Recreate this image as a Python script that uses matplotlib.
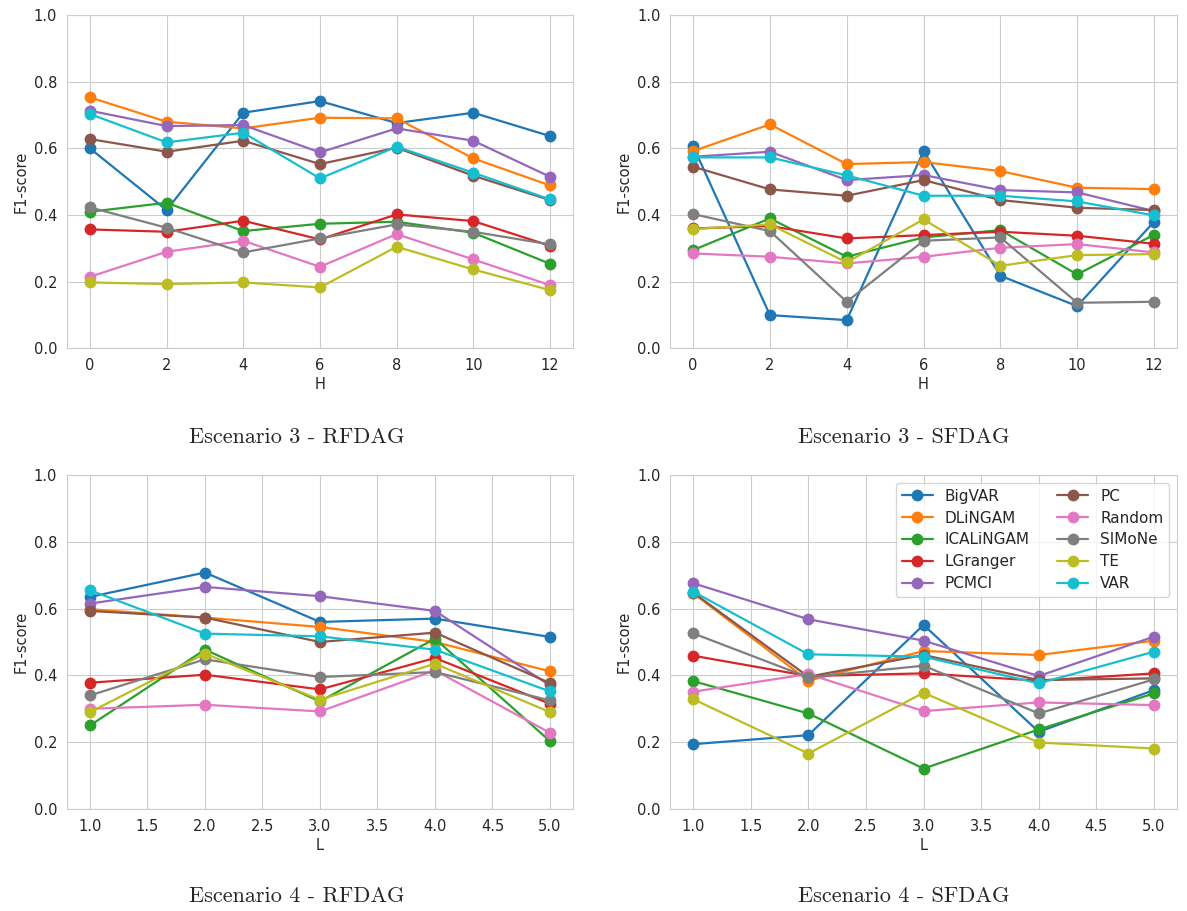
import numpy as np
import matplotlib
matplotlib.use("Agg")
import matplotlib.pyplot as plt
import seaborn as sns

sns.set_style("whitegrid")
plt.rcParams["font.family"] = ["DejaVu Sans"]

methods = ["BigVAR", "DLiNGAM", "ICALiNGAM", "LGranger", "PCMCI",
           "PC", "Random", "SIMoNe", "TE", "VAR"]

H = [0, 2, 4, 6, 8, 10, 12]
L = [1.0, 2.0, 3.0, 4.0, 5.0]

# Escenario 3 - RFDAG (x = H)
esc3_rf = {
    "BigVAR":    [0.600, 0.415, 0.707, 0.742, 0.676, 0.707, 0.637],
    "DLiNGAM":   [0.753, 0.680, 0.660, 0.692, 0.690, 0.570, 0.489],
    "ICALiNGAM": [0.410, 0.437, 0.352, 0.374, 0.380, 0.347, 0.254],
    "LGranger":  [0.357, 0.350, 0.383, 0.327, 0.402, 0.382, 0.308],
    "PCMCI":     [0.713, 0.667, 0.670, 0.588, 0.660, 0.623, 0.515],
    "PC":        [0.628, 0.590, 0.623, 0.553, 0.602, 0.518, 0.445],
    "Random":    [0.215, 0.290, 0.323, 0.245, 0.343, 0.267, 0.190],
    "SIMoNe":    [0.423, 0.362, 0.288, 0.330, 0.372, 0.350, 0.312],
    "TE":        [0.198, 0.193, 0.198, 0.183, 0.305, 0.237, 0.175],
    "VAR":       [0.703, 0.618, 0.647, 0.510, 0.605, 0.527, 0.447],
}

# Escenario 3 - SFDAG (x = H)
esc3_sf = {
    "BigVAR":    [0.607, 0.100, 0.085, 0.592, 0.218, 0.127, 0.380],
    "DLiNGAM":   [0.592, 0.672, 0.553, 0.559, 0.532, 0.482, 0.478],
    "ICALiNGAM": [0.295, 0.390, 0.275, 0.333, 0.355, 0.222, 0.341],
    "LGranger":  [0.360, 0.367, 0.330, 0.340, 0.350, 0.338, 0.314],
    "PCMCI":     [0.575, 0.590, 0.505, 0.520, 0.475, 0.468, 0.412],
    "PC":        [0.545, 0.477, 0.458, 0.505, 0.445, 0.422, 0.415],
    "Random":    [0.285, 0.275, 0.255, 0.275, 0.302, 0.313, 0.288],
    "SIMoNe":    [0.403, 0.352, 0.140, 0.323, 0.333, 0.137, 0.140],
    "TE":        [0.358, 0.372, 0.258, 0.387, 0.248, 0.280, 0.283],
    "VAR":       [0.573, 0.573, 0.519, 0.458, 0.458, 0.441, 0.399],
}

# Escenario 4 - RFDAG (x = L)
esc4_rf = {
    "BigVAR":    [0.635, 0.708, 0.560, 0.570, 0.515],
    "DLiNGAM":   [0.598, 0.573, 0.545, 0.500, 0.412],
    "ICALiNGAM": [0.250, 0.477, 0.322, 0.510, 0.203],
    "LGranger":  [0.378, 0.402, 0.358, 0.452, 0.315],
    "PCMCI":     [0.615, 0.665, 0.637, 0.593, 0.370],
    "PC":        [0.593, 0.573, 0.500, 0.528, 0.377],
    "Random":    [0.300, 0.312, 0.292, 0.415, 0.228],
    "SIMoNe":    [0.340, 0.448, 0.395, 0.410, 0.325],
    "TE":        [0.290, 0.465, 0.327, 0.435, 0.290],
    "VAR":       [0.655, 0.525, 0.517, 0.477, 0.352],
}

# Escenario 4 - SFDAG (x = L)
esc4_sf = {
    "BigVAR":    [0.194, 0.221, 0.551, 0.231, 0.356],
    "DLiNGAM":   [0.646, 0.384, 0.473, 0.461, 0.504],
    "ICALiNGAM": [0.383, 0.286, 0.121, 0.238, 0.346],
    "LGranger":  [0.459, 0.398, 0.406, 0.384, 0.406],
    "PCMCI":     [0.676, 0.568, 0.504, 0.398, 0.516],
    "PC":        [0.648, 0.396, 0.461, 0.386, 0.391],
    "Random":    [0.351, 0.404, 0.293, 0.319, 0.311],
    "SIMoNe":    [0.526, 0.394, 0.429, 0.286, 0.388],
    "TE":        [0.329, 0.166, 0.348, 0.199, 0.181],
    "VAR":       [0.651, 0.463, 0.456, 0.376, 0.471],
}

colors = plt.rcParams["axes.prop_cycle"].by_key()["color"]

fig = plt.figure(figsize=(11.87, 9.11), dpi=100)

# axes positions in figure fractions, subtitle positions
panels = [
    ([0.0564, 0.6175, 0.4263, 0.3660], H, esc3_rf, "H", "Escenario 3 - RFDAG", (0.250, 0.5095)),
    ([0.5645, 0.6175, 0.4271, 0.3660], H, esc3_sf, "H", "Escenario 3 - SFDAG", (0.761, 0.5095)),
    ([0.0564, 0.1120, 0.4263, 0.3666], L, esc4_rf, "L", "Escenario 4 - RFDAG", (0.250, 0.005)),
    ([0.5645, 0.1120, 0.4271, 0.3666], L, esc4_sf, "L", "Escenario 4 - SFDAG", (0.761, 0.005)),
]

for i, (pos, xs, data, xlab, title, tpos) in enumerate(panels):
    ax = fig.add_axes(pos)
    for j, m in enumerate(methods):
        ax.plot(xs, data[m], marker="o", markersize=7.5, linewidth=1.6,
                color=colors[j], label=m)
    ax.set_ylim(0, 1.0)
    ax.set_yticks([0.0, 0.2, 0.4, 0.6, 0.8, 1.0])
    if xlab == "H":
        ax.set_xticks(H)
    else:
        ax.set_xticks(np.arange(1.0, 5.01, 0.5))
        ax.set_xticklabels([f"{v:.1f}" for v in np.arange(1.0, 5.01, 0.5)])
    ax.tick_params(labelsize=10.5)
    ax.set_xlabel(xlab, fontsize=10.5, labelpad=3)
    ax.set_ylabel("F1-score", fontsize=10.5)
    fig.text(tpos[0], tpos[1], title, ha="center", va="bottom",
             fontsize=16, family="cmr10")
    if i == 3:
        ax.legend(ncol=2, loc="upper right", fontsize=11, frameon=True,
                  handlelength=2.0, columnspacing=1.8, labelspacing=0.45)

fig.savefig("out.png", dpi=100)
